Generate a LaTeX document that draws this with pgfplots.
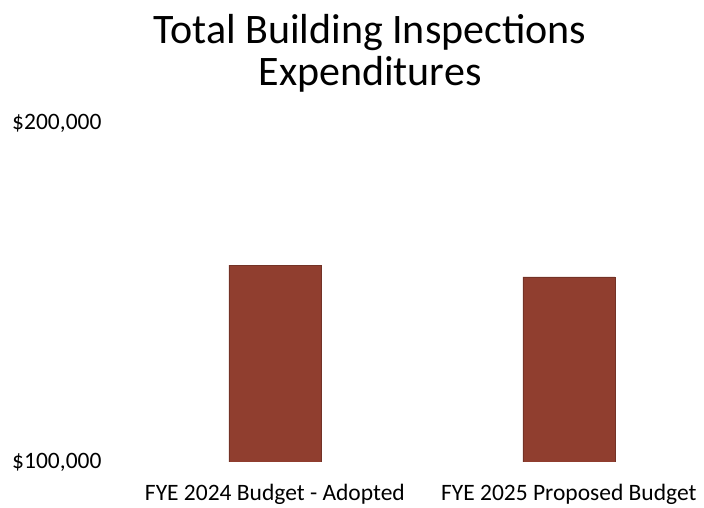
\documentclass[border=0pt]{standalone}
\usepackage{pgfplots}
\pgfplotsset{compat=1.18}
\usepackage{fontspec}
\setmainfont{Carlito}
\definecolor{barred}{RGB}{144,62,47}
\begin{document}
\begin{tikzpicture}
\begin{axis}[
    scale only axis,
    width=579pt,
    height=339pt,
    ybar,
    bar width=92pt,
    ymin=100000, ymax=200000,
    xmin=-0.51, xmax=1.46,
    xtick={0,1},
    xticklabels={FYE 2024 Budget - Adopted, FYE 2025 Proposed Budget},
    ytick={100000,200000},
    yticklabels={{\$100,000}, {\$200,000}},
    scaled y ticks=false,
    ticklabel style={font=\fontsize{23.5}{28}\selectfont},
    xticklabel style={yshift=-14pt},
    yticklabel style={xshift=-20pt},
    axis line style={draw=none},
    tick style={draw=none},
    clip mode=individual,
]
\addplot[fill=barred, draw=barred!80!black] coordinates {(0,158100) (1,154600)};
\end{axis}
\node[font=\fontsize{42}{42}\selectfont, align=center] at (245pt,409pt)
    {Total Building Inspections\\Expenditures};
\path[use as bounding box] (-125pt,-46pt) rectangle (579pt,462pt);
\end{tikzpicture}
\end{document}
